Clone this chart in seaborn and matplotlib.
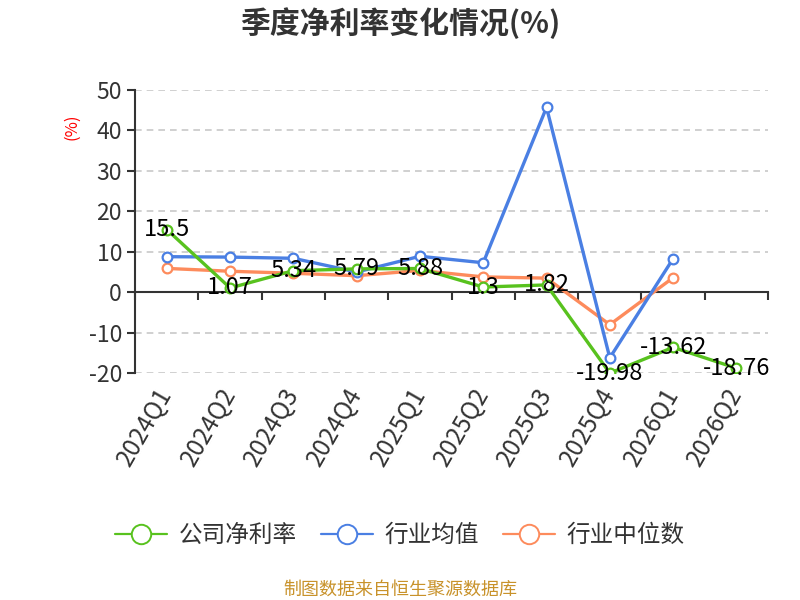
import numpy as np
import pandas as pd
import matplotlib
matplotlib.use("Agg")
import matplotlib.pyplot as plt
from matplotlib.lines import Line2D
import seaborn as sns

sns.set_style("white")
plt.rcParams['font.family'] = ['Noto Sans CJK SC', 'DejaVu Sans']

quarters = ["2024Q1", "2024Q2", "2024Q3", "2024Q4", "2025Q1",
            "2025Q2", "2025Q3", "2025Q4", "2026Q1", "2026Q2"]
company = [15.5, 1.07, 5.34, 5.79, 5.88, 1.3, 1.82, -19.98, -13.62, -18.76]
ind_mean = [8.8, 8.7, 8.4, 5.0, 8.9, 7.3, 45.7, -16.2, 8.3, np.nan]
ind_median = [5.9, 5.2, 4.7, 4.1, 5.4, 3.8, 3.5, -8.0, 3.6, np.nan]

names = ["公司净利率", "行业均值", "行业中位数"]
colors = ["#58c21e", "#4a7fe3", "#fd8b5c"]

df = pd.DataFrame({"x": np.arange(len(quarters)),
                   names[0]: company, names[1]: ind_mean, names[2]: ind_median})

fig = plt.figure(figsize=(8, 6), dpi=100)
ax = fig.add_axes([0.169, 0.378, 0.791, 0.472])

# orange first, then blue, green on top
for name, c in reversed(list(zip(names, colors))):
    sub = df[["x", name]].dropna()
    sns.lineplot(data=sub, x="x", y=name, ax=ax, color=c, linewidth=2.4,
                 marker="o", markersize=7, markerfacecolor="white",
                 markeredgecolor=c, markeredgewidth=1.6, zorder=3)

for xi, v in zip(df["x"], company):
    ax.text(xi, v, f"{v:g}", ha="center", va="center", fontsize=17,
            color="black", zorder=5)

# spines first: set_position resets the ticks
for s in ["top", "right"]:
    ax.spines[s].set_visible(False)
ax.spines["bottom"].set_position(("data", 0))
ax.spines["bottom"].set_color("#333333")
ax.spines["bottom"].set_linewidth(1.5)
ax.spines["left"].set_color("#333333")
ax.spines["left"].set_linewidth(1.5)
ax.set_xlabel("")
ax.set_ylabel("")

ax.set_xlim(-0.5, len(quarters) - 0.5)
ax.set_ylim(-20, 50)
ax.set_yticks(range(-20, 51, 10))
ax.set_yticklabels([str(t) for t in range(-20, 51, 10)])
ax.yaxis.grid(True, linestyle=(0, (4, 3)), color="#c8c8c8", linewidth=1.2)
ax.xaxis.grid(False)

# boundary ticks as minor, category labels on major ticks
ax.set_xticks(np.arange(-0.5, len(quarters), 1.0), minor=True)
ax.tick_params(axis="x", which="minor", bottom=True, length=6, width=1.5,
               color="#333333", direction="out")
ax.tick_params(axis="x", which="major", bottom=True, length=0, pad=70)
ax.tick_params(axis="y", left=True, length=6, width=1.5, color="#333333",
               direction="out", labelsize=16.5, labelcolor="#333333")
ax.set_xticks(np.arange(len(quarters)))
ax.set_xticklabels(quarters, rotation=60, ha="right", va="center",
                   rotation_mode="anchor", fontsize=17.5, color="#333333")

fig.text(0.09, 0.788, "(%)", color="red", fontsize=12, rotation=90,
         ha="center", va="center")
fig.text(0.5, 0.962, "季度净利率变化情况(%)", fontsize=21.5, fontweight="bold",
         color="#333333", ha="center", va="center")

handles = [Line2D([0], [0], color=c, linewidth=1.6, marker="o", markersize=14,
                  markerfacecolor="white", markeredgecolor=c, markeredgewidth=1.4)
           for c in colors]
leg = fig.legend(handles, names, loc="center", bbox_to_anchor=(0.5, 0.107),
                 ncol=3, frameon=False, fontsize=17, handlelength=2.2,
                 columnspacing=1.0, handletextpad=0.5)
for t in leg.get_texts():
    t.set_color("#333333")

fig.text(0.5, 0.017, "制图数据来自恒生聚源数据库", fontsize=13, color="#c8922a",
         ha="center", va="center")

fig.savefig("out.png", dpi=100)
